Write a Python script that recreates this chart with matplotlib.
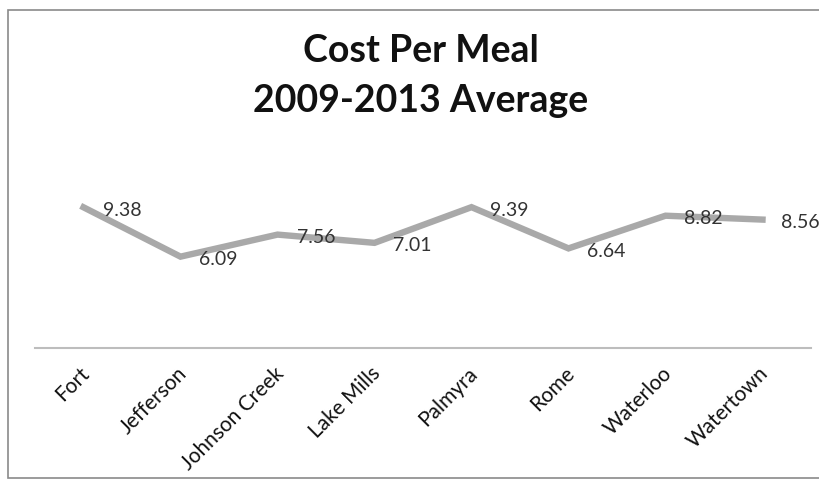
import matplotlib.pyplot as plt
from matplotlib.patches import Rectangle
import matplotlib.transforms as mtransforms

# --- data ---
towns = ["Fort", "Jefferson", "Johnson Creek", "Lake Mills",
         "Palmyra", "Rome", "Waterloo", "Watertown"]
cost = [9.38, 6.09, 7.56, 7.01, 9.39, 6.64, 8.82, 8.56]
title_lines = ["Cost Per Meal", "2009-2013 Average"]

plt.rcParams['font.family'] = ['Lato', 'DejaVu Sans']

fig = plt.figure(figsize=(8.19, 4.83), dpi=100)
ax = fig.add_axes([35 / 819, 135 / 483, 776 / 819, 180 / 483])

x = list(range(len(towns)))
ax.plot(x, cost, color='#a9a9a9', linewidth=4.6, solid_joinstyle='miter')

# value labels to the right of each point
for xi, v in zip(x, cost):
    ax.annotate(f"{v:.2f}", (xi, v), xytext=(19, -3), textcoords='offset pixels',
                ha='left', va='center', fontsize=14, color='#333333',
                annotation_clip=False)

ax.set_xlim(-0.5, len(towns) - 0.5)
ax.set_ylim(0, 12)
ax.set_yticks([])
for side in ['top', 'right', 'left']:
    ax.spines[side].set_visible(False)
ax.spines['bottom'].set_color('#bdbdbd')
ax.spines['bottom'].set_linewidth(1.5)

ax.set_xticks(x)
ax.set_xticklabels(towns, rotation=45, ha='right', rotation_mode='anchor',
                   fontsize=15, color='#111111')
ax.tick_params(axis='x', length=0, pad=11)
shift = mtransforms.ScaledTranslation(-4 / 100, 0, fig.dpi_scale_trans)
for lab in ax.get_xticklabels():
    lab.set_transform(lab.get_transform() + shift)

# title
fig.text(421 / 819, 1 - 51 / 483, title_lines[0], ha='center', va='center',
         fontsize=27, fontweight='bold', color='#111111')
fig.text(421 / 819, 1 - 101 / 483, title_lines[1], ha='center', va='center',
         fontsize=27, fontweight='bold', color='#111111')

# scanned chart border
fig.patches.append(Rectangle((8 / 819, 5 / 483), 812 / 819, 468 / 483,
                             transform=fig.transFigure, fill=False,
                             edgecolor='#8a8a8a', linewidth=1.2))

fig.savefig("out.png", dpi=100)
